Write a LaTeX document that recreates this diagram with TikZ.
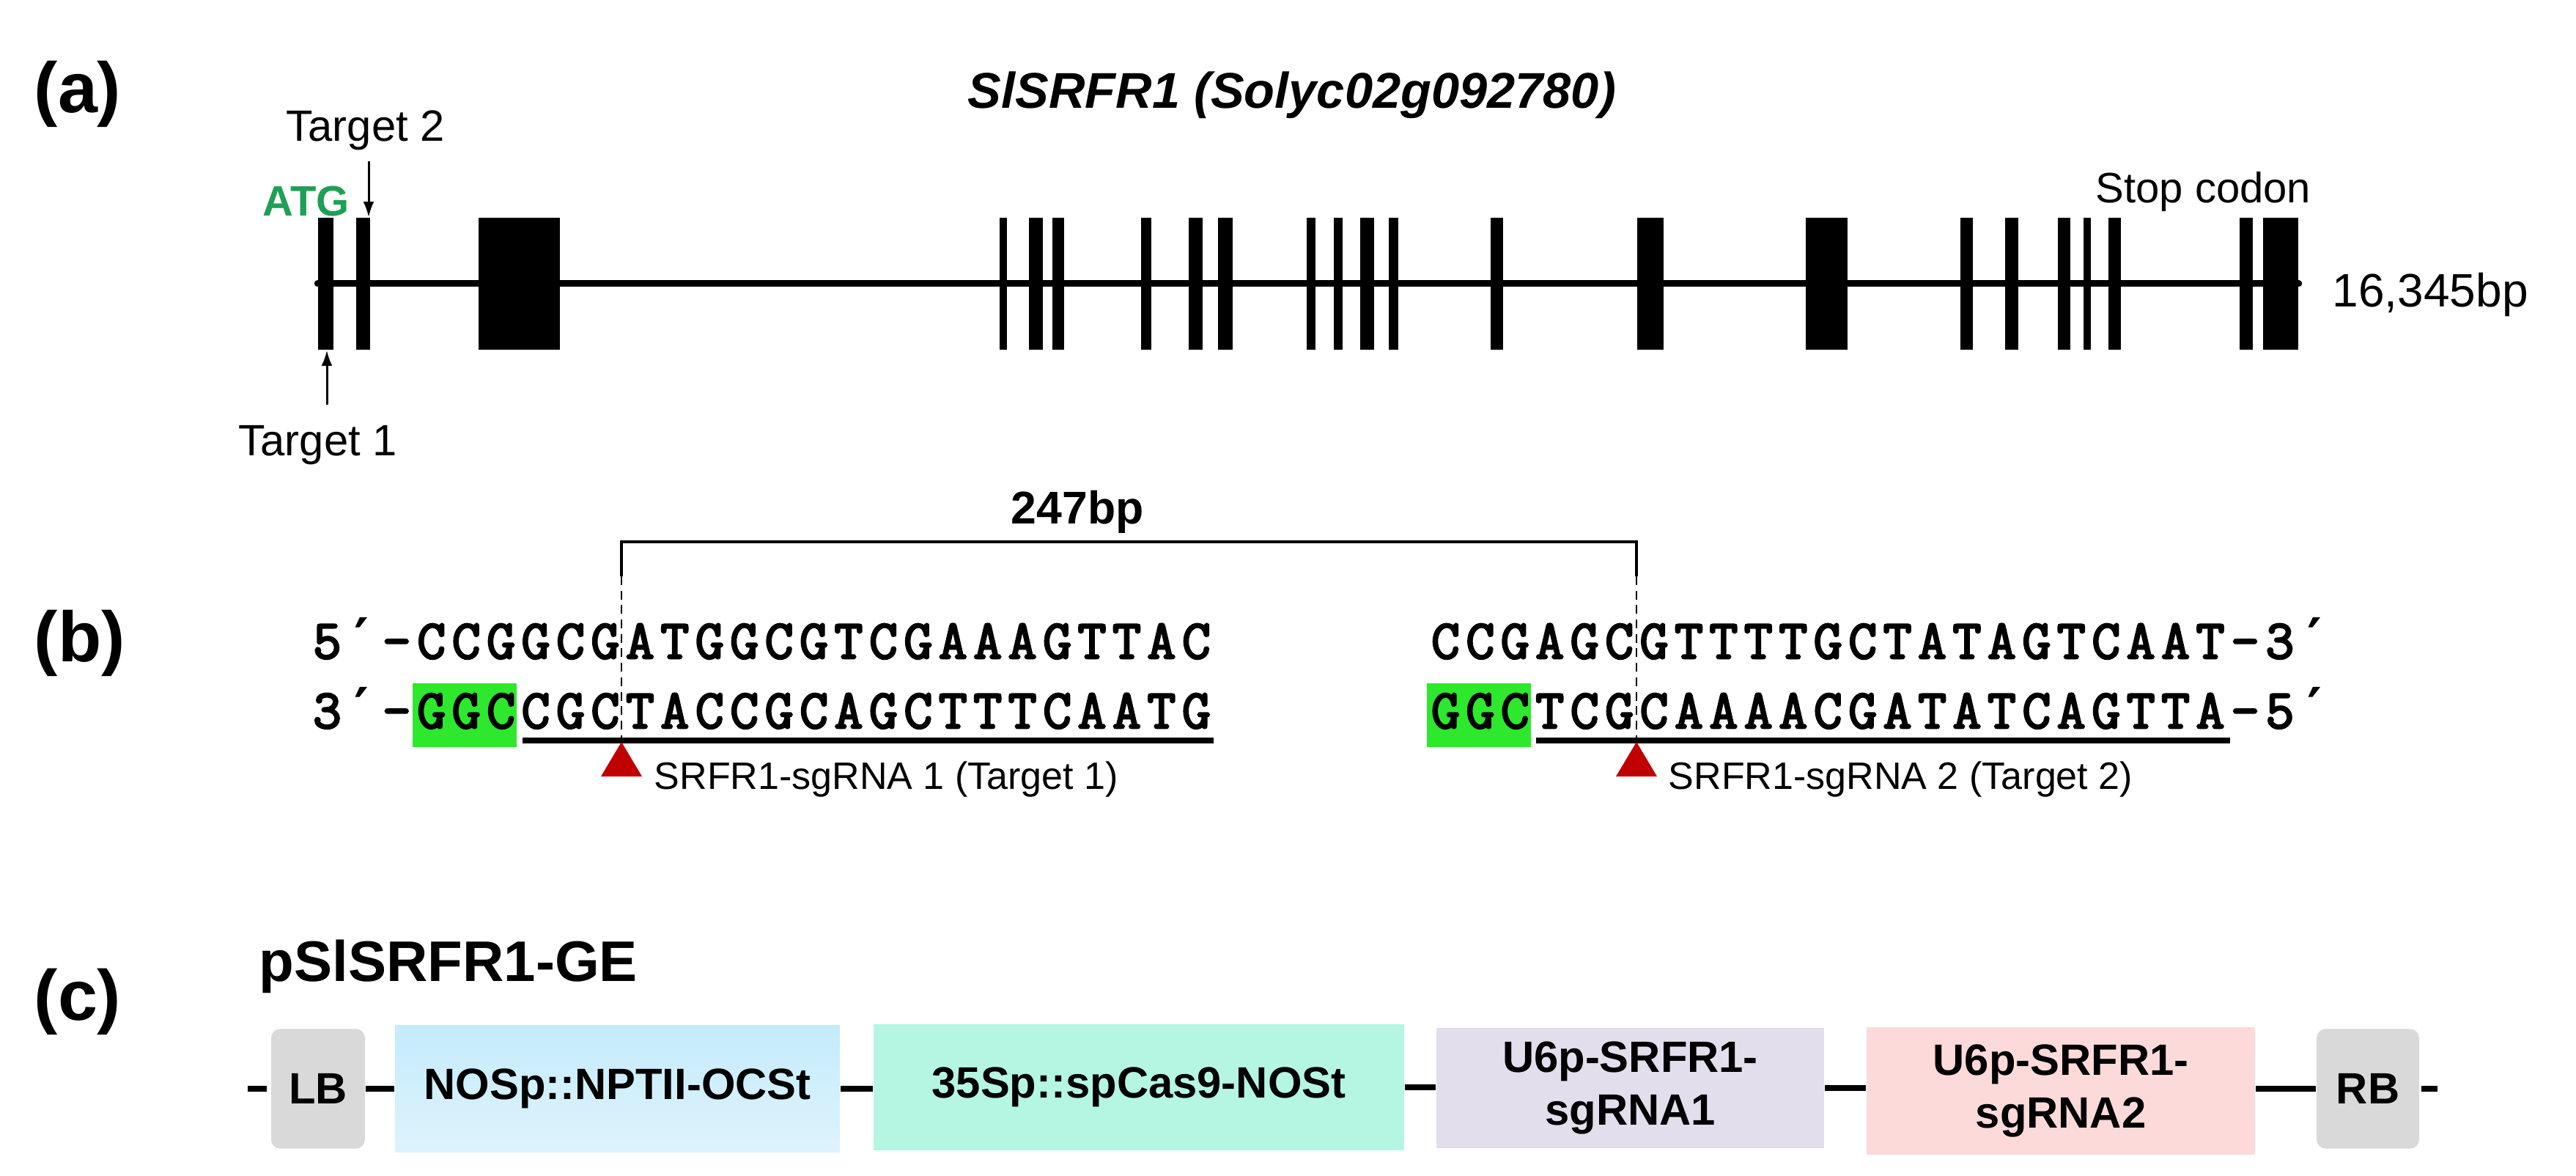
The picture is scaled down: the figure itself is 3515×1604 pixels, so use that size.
\documentclass[tikz,border=0pt]{standalone}
\usepackage{fontspec}
\setmainfont{Liberation Sans}
\newfontfamily\primefont{DejaVu Sans}
\newfontfamily\seqfont[FakeBold=3.5]{Latin Modern Mono}
\usetikzlibrary{arrows.meta}
\definecolor{atggreen}{RGB}{30,160,85}
\definecolor{pamgreen}{RGB}{45,232,45}
\definecolor{trired}{RGB}{192,0,0}
\definecolor{lbgray}{RGB}{217,217,217}
\definecolor{nosbluetop}{RGB}{196,235,252}
\definecolor{nosbluebot}{RGB}{222,243,252}
\definecolor{casmint}{RGB}{180,246,226}
\definecolor{ulav}{RGB}{226,222,236}
\definecolor{upink}{RGB}{252,218,218}
\newcommand\pr{{\primefont\bfseries ′}}
\newcommand\seqloop[1]{\ifx#1\relax\else\makebox[13.49pt]{#1}\expandafter\seqloop\fi}
\newcommand\seqstr[1]{\seqloop#1\relax}
\begin{document}
\begin{tikzpicture}[x=0.01cm,y=-0.01cm,
  txt/.style={inner sep=0pt, anchor=base west},
  panel/.style={txt, font=\fontsize{27.6pt}{30pt}\selectfont\bfseries},
  plain/.style={txt, font=\fontsize{17pt}{20pt}\selectfont},
  seq/.style={txt, font=\fontsize{21.5pt}{26pt}\seqfont},
  sglbl/.style={txt, font=\fontsize{14.8pt}{17pt}\selectfont},
  exon/.style={fill=black, inner sep=0pt, minimum height=51.2pt},
  geneline/.style={line width=2.56pt, line cap=round},
  arr/.style={line width=0.85pt, -{Latex[length=6pt,width=4.2pt]}},
  bracket/.style={line width=1.1pt},
  dashline/.style={line width=0.8pt, dash pattern=on 3.4pt off 2.2pt},
  uline/.style={line width=2pt},
  pam/.style={fill=pamgreen, inner sep=0pt, minimum width=40.4pt, minimum height=24.75pt},
  cline/.style={line width=2.3pt},
  cbox/.style={inner sep=0pt, align=center, font=\fontsize{17pt}{20.5pt}\selectfont\bfseries}
]
\useasboundingbox (0,0) rectangle (3515,1604);

% ---------------- (a) ----------------
\node[panel] (pa) at (46,154) {(a)};
\node[txt, font=\fontsize{19.5pt}{22pt}\selectfont\bfseries\itshape] (title) at (1320,148) {SlSRFR1 (Solyc02g092780)};

\foreach \a/\b [count=\i] in {434/455,486/505,653/764,1364/1374,1404/1423,1436/1452,1557/1571,1622/1641,1662/1682,1783/1795,1820/1832,1856/1875,1895/1908,2034/2051,2234/2270,2464/2521,2675/2692,2736/2754,2808/2825,2843/2853,2877/2894,3056/3074,3088/3136}{
  \pgfmathsetmacro\w{(\b-\a)*0.2845276}
  \pgfmathsetmacro\m{(\a+\b)/2}
  \node[exon, minimum width=\w pt] (e\i) at (\m,387) {};
}
\draw[geneline] (e1.west) -- (e23.east);

\node[txt, font=\fontsize{16.5pt}{19pt}\selectfont\bfseries, text=atggreen] (atg) at (358,295) {ATG};
\node[plain] (t2) at (390,193) {Target 2};
\node[plain] (t1) at (325,622) {Target 1};
\node[plain, font=\fontsize{16.5pt}{19pt}\selectfont] (stop) at (2859,277) {Stop codon};
\node[plain, font=\fontsize{18.2pt}{21pt}\selectfont] (len) at (3182,419) {16,345bp};

\coordinate (t2s) at (503,220);
\coordinate (t1s) at (446,552);
\draw[arr] (t2s) -- (t2s |- e2.north);
\draw[arr] (t1s) -- (t1s |- e1.south);

% ---------------- (b) ----------------
\node[panel] (pb) at (46,903) {(b)};
\node[txt, font=\fontsize{17.8pt}{21pt}\selectfont\bfseries] (bp) at (1379,715) {247bp};

\node[pam] (pam1) at (634,975.5) {};
\node[pam] (pam2) at (2018,975.5) {};

\node[seq] (s1) at (422,898) {\seqstr{5\pr-CCGGCGATGGCGTCGAAAGTTAC}};
\node[seq] (s2) at (422,993) {\seqstr{3\pr-GGCCGCTACCGCAGCTTTCAATG}};
\node[seq] (s3) at (1948,898) {\seqstr{CCGAGCGTTTTGCTATAGTCAAT-3\pr}};
\node[seq] (s4) at (1948,993) {\seqstr{GGCTCGCAAAACGATATCAGTTA-5\pr}};

\coordinate (ul1a) at (713,1010);
\coordinate (ul1b) at (1656,1010);
\coordinate (ul2a) at (2096,1010);
\coordinate (ul2b) at (3043,1010);
\draw[uline] (ul1a) -- (ul1b);
\draw[uline] (ul2a) -- (ul2b);

\coordinate (c1top) at (848,739);
\coordinate (c2top) at (2233,739);
\coordinate (c1mid) at (848,786);
\coordinate (c2mid) at (2233,786);
\coordinate (c1bot) at (848,1012);
\coordinate (c2bot) at (2233,1012);
\draw[bracket] (c1mid) -- (c1top) -- (c2top) -- (c2mid);
\draw[dashline] (c1mid) -- (c1bot);
\draw[dashline] (c2mid) -- (c2bot);

\fill[trired] (c1bot) -- (820,1059) -- (876,1059) -- cycle;
\fill[trired] (c2bot) -- (2205,1059) -- (2261,1059) -- cycle;

\node[sglbl] (g1) at (892,1076) {SRFR1-sgRNA 1 (Target 1)};
\node[sglbl] (g2) at (2276,1076) {SRFR1-sgRNA 2 (Target 2)};

% ---------------- (c) ----------------
\node[panel] (pc) at (46,1391) {(c)};
\node[txt, font=\fontsize{22.2pt}{26pt}\selectfont\bfseries] (vec) at (353,1338) {pSlSRFR1-GE};

\node[cbox, fill=lbgray, rounded corners=3.5pt, minimum width=36.4pt, minimum height=46.4pt] (lb) at (434,1485) {LB};
\node[cbox, top color=nosbluetop, bottom color=nosbluebot, minimum width=172.7pt, minimum height=49.2pt] (nos) at (842.5,1485) {NOSp::NPTII-OCSt};
\node[cbox, fill=casmint, minimum width=206pt, minimum height=48.9pt] (cas) at (1554,1483) {35Sp::spCas9-NOSt};
\node[cbox, fill=ulav, minimum width=150.5pt, minimum height=46.9pt] (u1) at (2224.5,1484) {U6p-SRFR1-\\sgRNA1};
\node[cbox, fill=upink, minimum width=150.8pt, minimum height=49.2pt] (u2) at (2812,1488) {U6p-SRFR1-\\sgRNA2};
\node[cbox, fill=lbgray, rounded corners=3.5pt, minimum width=39.8pt, minimum height=46.4pt] (rb) at (3231,1485) {RB};

\coordinate (lstub) at (338,1485);
\coordinate (rstub) at (3326,1485);
\draw[cline] (lstub) -- ([xshift=-1.4pt]lb.west);
\draw[cline] (lb.east) -- (lb.east -| nos.west);
\draw[cline] (nos.east) -- (nos.east -| cas.west);
\draw[cline] (cas.east) -- (cas.east -| u1.west);
\draw[cline] (u1.east) -- (u1.east -| u2.west);
\draw[cline] (u2.east |- rb.west) -- (rb.west);
\draw[cline] ([xshift=0.6pt]rb.east) -- (rstub);
\end{tikzpicture}
\end{document}
